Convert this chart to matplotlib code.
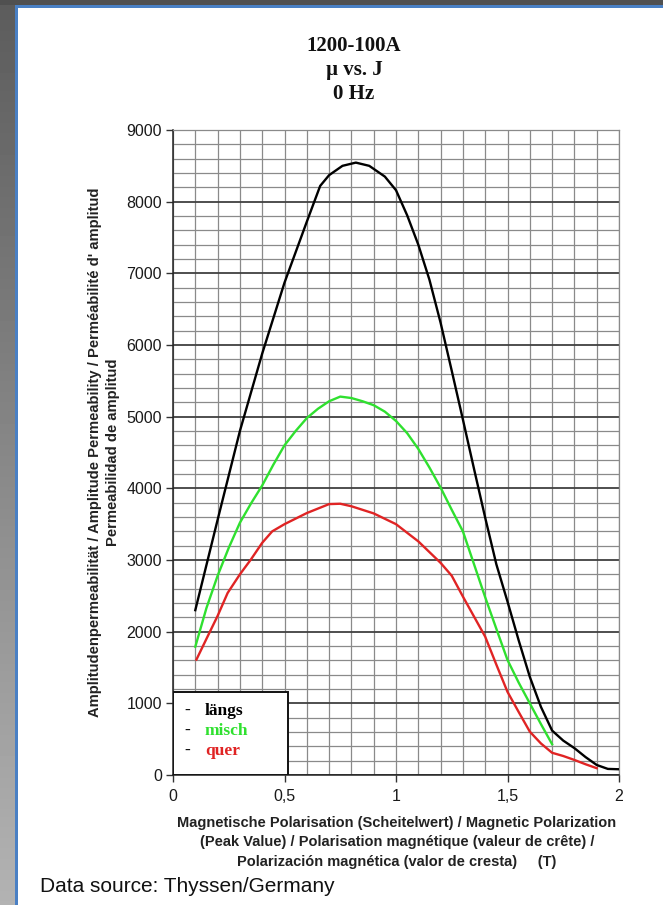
import matplotlib
matplotlib.use("Agg")
import matplotlib.pyplot as plt
import numpy as np
from matplotlib.patches import Rectangle
from matplotlib.ticker import MultipleLocator

# ---------------- data ----------------
series_names = ["längs", "misch", "quer"]
series_colors = ["#000000", "#2fe02f", "#e02424"]

j_laengs = [0.10, 0.20, 0.30, 0.40, 0.50, 0.60, 0.66, 0.70, 0.76, 0.82, 0.88, 0.95,
            1.00, 1.05, 1.10, 1.15, 1.20, 1.25, 1.30, 1.35, 1.40, 1.45, 1.50, 1.55,
            1.60, 1.65, 1.70, 1.75, 1.80, 1.85, 1.90, 1.95, 2.00]
mu_laengs = [2300, 3560, 4800, 5880, 6870, 7720, 8220, 8370, 8500, 8545, 8500, 8350,
             8160, 7810, 7400, 6910, 6310, 5640, 4960, 4270, 3590, 2940, 2420, 1880,
             1370, 950, 620, 480, 375, 250, 140, 85, 80]

j_misch = [0.10, 0.15, 0.20, 0.25, 0.30, 0.35, 0.40, 0.45, 0.50, 0.55, 0.60, 0.65,
           0.70, 0.75, 0.80, 0.85, 0.90, 0.95, 1.00, 1.05, 1.10, 1.15, 1.20, 1.25,
           1.30, 1.35, 1.40, 1.45, 1.50, 1.55, 1.60, 1.65, 1.70]
mu_misch = [1790, 2330, 2780, 3170, 3520, 3790, 4040, 4330, 4600, 4800, 4980, 5110,
            5215, 5280, 5260, 5215, 5160, 5070, 4940, 4770, 4550, 4290, 4010, 3700,
            3400, 2940, 2480, 2040, 1605, 1290, 1000, 710, 430]

j_quer = [0.105, 0.15, 0.20, 0.245, 0.30, 0.35, 0.40, 0.445, 0.50, 0.60, 0.70, 0.75,
          0.80, 0.90, 1.00, 1.10, 1.20, 1.25, 1.30, 1.40, 1.45, 1.50, 1.55, 1.60,
          1.65, 1.70, 1.75, 1.80, 1.85, 1.90]
mu_quer = [1610, 1900, 2220, 2540, 2800, 3010, 3240, 3400, 3500, 3655, 3780, 3785,
           3750, 3650, 3500, 3260, 2960, 2780, 2490, 1930, 1540, 1160, 880, 605,
           440, 310, 265, 210, 150, 95]

x_ticks = [0, 0.5, 1, 1.5, 2]
x_ticklabels = ["0", "0,5", "1", "1,5", "2"]
y_ticks = [0, 1000, 2000, 3000, 4000, 5000, 6000, 7000, 8000, 9000]

title_lines = ["1200-100A", "µ vs. J", "0 Hz"]
ylabel_text = ("Amplitudenpermeabilität / Amplitude Permeability / Perméabilité d' amplitud\n"
               "Permeabilidad de amplitud")
xlabel_text = ("Magnetische Polarisation (Scheitelwert) / Magnetic Polarization\n"
               "(Peak Value) / Polarisation magnétique (valeur de crête) /\n"
               "Polarización magnética (valor de cresta)     (T)")
source_text = "Data source: Thyssen/Germany"

# ---------------- figure ----------------
W, H = 663, 905
fig = plt.figure(figsize=(W / 100, H / 100), dpi=100)
fig.patch.set_facecolor("white")

# decorative frame: top dark band, left gradient band, blue border lines
bg = fig.add_axes([0, 0, 15 / W, 1])
grad = np.linspace(0.36, 0.70, 256).reshape(-1, 1)
bg.imshow(grad, aspect="auto", cmap="gray", vmin=0, vmax=1, origin="upper",
          extent=[0, 1, 0, 1])
bg.set_axis_off()
fig.add_artist(Rectangle((0, 1 - 5 / H), 1, 5 / H, transform=fig.transFigure,
                         facecolor="#505050", edgecolor="none", zorder=5))
fig.add_artist(Rectangle((15 / W, 0), 3 / W, 1 - 5 / H, transform=fig.transFigure,
                         facecolor="#4a80c4", edgecolor="none", zorder=5))
fig.add_artist(Rectangle((15 / W, 1 - 8 / H), 1, 3 / H, transform=fig.transFigure,
                         facecolor="#4a80c4", edgecolor="none", zorder=5))

ax = fig.add_axes([173 / W, 1 - 775 / H, (619 - 173) / W, (775 - 130) / H])
ax.set_xlim(0, 2)
ax.set_ylim(0, 9000)

# grid
ax.xaxis.set_minor_locator(MultipleLocator(0.1))
ax.yaxis.set_minor_locator(MultipleLocator(200))
ax.set_xticks(x_ticks)
ax.set_xticklabels(x_ticklabels)
ax.set_yticks(y_ticks)
ax.grid(which="minor", axis="both", color="#8a8a8a", linewidth=0.9)
ax.grid(which="major", axis="x", color="#8a8a8a", linewidth=0.9)
ax.grid(which="major", axis="y", color="#404040", linewidth=1.3)
ax.set_axisbelow(True)
ax.tick_params(which="minor", length=0)
ax.tick_params(which="major", length=5, width=1, color="#333333", direction="out",
               labelsize=11.5, labelcolor="#1a1a1a")
ax.tick_params(axis="y", pad=3)
ax.tick_params(axis="x", pad=5)
for lab in ax.get_xticklabels() + ax.get_yticklabels():
    lab.set_family("Liberation Sans")

for side in ["top", "right"]:
    ax.spines[side].set_color("#8a8a8a")
    ax.spines[side].set_linewidth(0.9)
for side in ["left", "bottom"]:
    ax.spines[side].set_color("#222222")
    ax.spines[side].set_linewidth(1.1)

# curves
for jj, mm, c in zip([j_laengs, j_misch, j_quer], [mu_laengs, mu_misch, mu_quer], series_colors):
    ax.plot(jj, mm, color=c, linewidth=1.7, solid_joinstyle="round", zorder=3)

# legend box (manual, bottom-left)
ax.add_patch(Rectangle((0, 0), 115 / 446, 83 / 645, transform=ax.transAxes,
                       facecolor="white", edgecolor="#111111", linewidth=1.4, zorder=4))
row_y = [711, 731, 751]
for name, col, ry in zip(series_names, series_colors, row_y):
    yy = (775 - ry) / 645
    ax.text((184 - 173) / 446, yy, "-", transform=ax.transAxes, ha="left", va="center",
            family="Liberation Serif", fontweight="bold", fontsize=12.5, color="#111111", zorder=5)
    ax.text((205 - 173) / 446, yy, name, transform=ax.transAxes, ha="left", va="center",
            family="Liberation Serif", fontweight="bold", fontsize=12.5, color=col, zorder=5)

# title
for line, ty in zip(title_lines, [46, 70, 94]):
    fig.text(354 / W, 1 - ty / H, line, ha="center", va="center",
             family="Liberation Serif", fontweight="bold", fontsize=15, color="#111111")

# axis labels
fig.text(104 / W, 1 - 452 / H, ylabel_text, rotation=90, ha="center", va="center",
         multialignment="center", family="Liberation Sans", fontweight="bold",
         fontsize=10.6, color="#222222", linespacing=1.35)
fig.text(397 / W, 1 - 842 / H, xlabel_text, ha="center", va="center",
         multialignment="center", family="Liberation Sans", fontweight="bold",
         fontsize=10.5, color="#222222", linespacing=1.5)

fig.text(40 / W, 1 - 886 / H, source_text, ha="left", va="center",
         family="Liberation Sans", fontsize=15, color="#111111")

fig.savefig("out.png", dpi=100, facecolor=fig.get_facecolor())
